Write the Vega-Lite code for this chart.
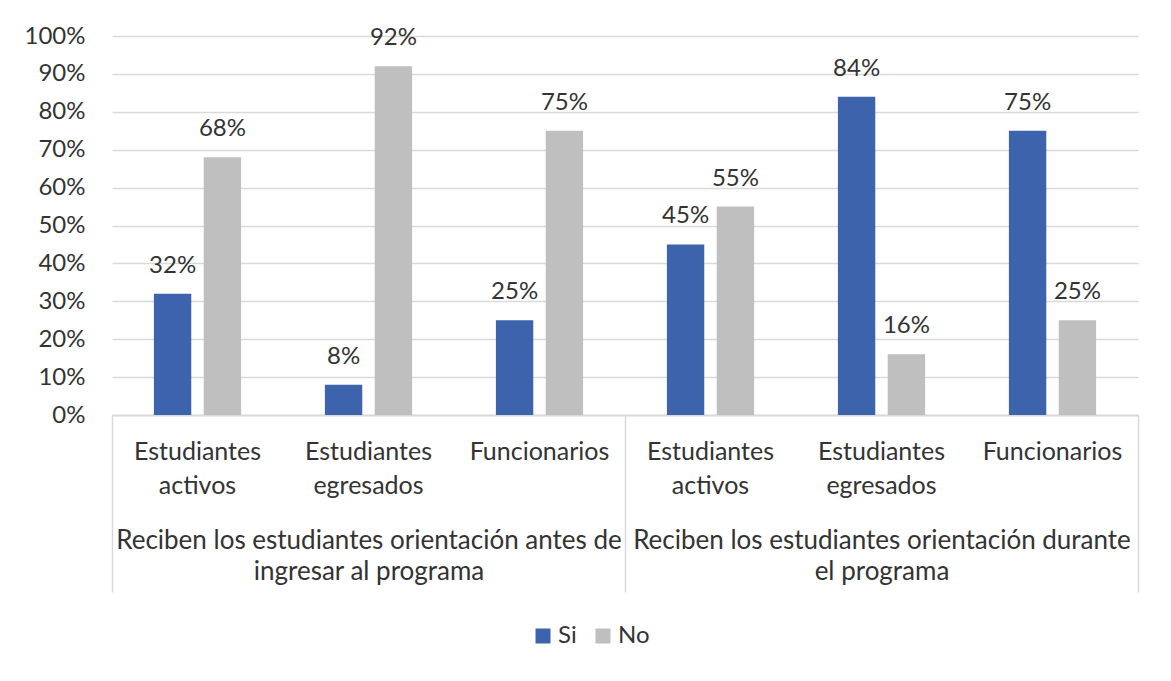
{
  "$schema": "https://vega.github.io/schema/vega-lite/v6.json",
  "width": 1026,
  "height": 379,
  "autosize": {"type": "none"},
  "padding": {"left": 112, "top": 36, "right": 33, "bottom": 266},
  "background": "white",
  "config": {
    "font": "Lato",
    "view": {"stroke": null},
    "axis": {"labelColor": "#333333", "labelFont": "Lato", "labelFontSize": 24}
  },
  "data": {
    "values": [
      {"slot": "1|Estudiantes activos", "group": "Reciben los estudiantes orientación antes de ingresar al programa", "series": "Si", "value": 0.32},
      {"slot": "1|Estudiantes activos", "group": "Reciben los estudiantes orientación antes de ingresar al programa", "series": "No", "value": 0.68},
      {"slot": "1|Estudiantes egresados", "group": "Reciben los estudiantes orientación antes de ingresar al programa", "series": "Si", "value": 0.08},
      {"slot": "1|Estudiantes egresados", "group": "Reciben los estudiantes orientación antes de ingresar al programa", "series": "No", "value": 0.92},
      {"slot": "1|Funcionarios", "group": "Reciben los estudiantes orientación antes de ingresar al programa", "series": "Si", "value": 0.25},
      {"slot": "1|Funcionarios", "group": "Reciben los estudiantes orientación antes de ingresar al programa", "series": "No", "value": 0.75},
      {"slot": "2|Estudiantes activos", "group": "Reciben los estudiantes orientación durante el programa", "series": "Si", "value": 0.45},
      {"slot": "2|Estudiantes activos", "group": "Reciben los estudiantes orientación durante el programa", "series": "No", "value": 0.55},
      {"slot": "2|Estudiantes egresados", "group": "Reciben los estudiantes orientación durante el programa", "series": "Si", "value": 0.84},
      {"slot": "2|Estudiantes egresados", "group": "Reciben los estudiantes orientación durante el programa", "series": "No", "value": 0.16},
      {"slot": "2|Funcionarios", "group": "Reciben los estudiantes orientación durante el programa", "series": "Si", "value": 0.75},
      {"slot": "2|Funcionarios", "group": "Reciben los estudiantes orientación durante el programa", "series": "No", "value": 0.25}
    ]
  },
  "layer": [
    {
      "encoding": {
        "x": {
          "field": "slot",
          "type": "nominal",
          "sort": null,
          "scale": {"paddingInner": 0.49, "paddingOuter": 0.245},
          "axis": {
            "orient": "bottom",
            "title": null,
            "ticks": false,
            "grid": false,
            "domain": true,
            "domainColor": "#d9d9d9",
            "domainWidth": 1.5,
            "labelAngle": 0,
            "labelFontSize": 25,
            "labelPadding": 24,
            "labelBaseline": "top",
            "labelLineHeight": 34,
            "labelOverlap": false,
            "labelBound": false,
            "labelLimit": 0,
            "labelExpr": "split(split(datum.value, '|')[1], ' ')"
          }
        },
        "xOffset": {"field": "series", "sort": ["Si", "No"], "scale": {"paddingInner": 0.25, "paddingOuter": 0}},
        "y": {
          "field": "value",
          "type": "quantitative",
          "scale": {"domain": [0, 1]},
          "axis": {
            "title": null,
            "values": [0, 0.1, 0.2, 0.3, 0.4, 0.5, 0.6, 0.7, 0.8, 0.9, 1],
            "format": ".0%",
            "domain": false,
            "ticks": false,
            "grid": true,
            "gridColor": "#d9d9d9",
            "gridWidth": 1.5,
            "labelPadding": 27
          }
        }
      },
      "layer": [
        {
          "mark": {"type": "bar"},
          "encoding": {
            "color": {
              "field": "series",
              "type": "nominal",
              "scale": {"domain": ["Si", "No"], "range": ["#3E63AD", "#BFBFBF"]},
              "legend": {
                "title": null,
                "orient": "none",
                "legendX": 419,
                "legendY": 588,
                "direction": "horizontal",
                "symbolType": "square",
                "symbolSize": 225,
                "symbolStrokeWidth": 0,
                "labelFontSize": 24,
                "labelColor": "#333333",
                "labelOffset": 3,
                "columnPadding": 14,
                "padding": 0
              }
            }
          }
        },
        {
          "mark": {"type": "text", "baseline": "alphabetic", "dy": -21, "fontSize": 24, "color": "#333333"},
          "encoding": {
            "text": {"field": "value", "type": "quantitative", "format": ".0%"}
          }
        }
      ]
    },
    {
      "mark": {"type": "rule", "opacity": 0},
      "encoding": {
        "x": {
          "field": "group",
          "type": "nominal",
          "sort": null,
          "scale": {"paddingInner": 0, "paddingOuter": 0},
          "axis": {
            "orient": "bottom",
            "title": null,
            "grid": false,
            "domain": true,
            "domainColor": "#d9d9d9",
            "domainWidth": 1.5,
            "ticks": true,
            "tickBand": "extent",
            "tickSize": 177,
            "tickColor": "#d9d9d9",
            "tickWidth": 1.5,
            "labelAngle": 0,
            "labelFontSize": 26,
            "labelPadding": -65,
            "labelBaseline": "top",
            "labelLineHeight": 31,
            "labelOverlap": false,
            "labelBound": false,
            "labelLimit": 0,
            "labelExpr": "isString(datum.value) ? split(replace(replace(datum.value, 'de ingresar', 'de|ingresar'), 'durante el', 'durante|el'), '|') : ''"
          }
        }
      }
    }
  ],
  "resolve": {"scale": {"x": "independent"}}
}
